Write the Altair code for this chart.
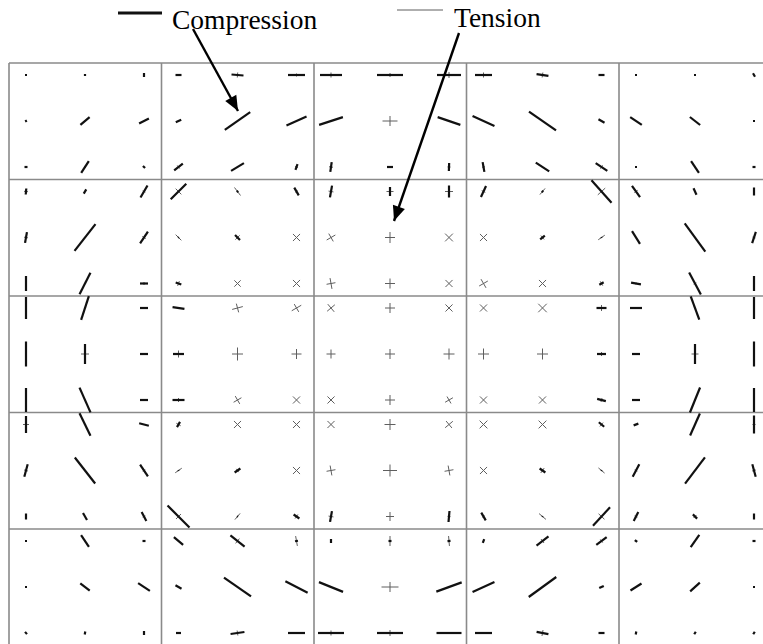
import math
import altair as alt
import pandas as pd

# Principal stress field on a 5 x 5 panel grid, 3 x 3 sample points per panel.
# ANGLE: direction of the first principal stress (deg, counter-clockwise from horizontal)
# S1: signed magnitude along ANGLE, S2: signed magnitude along ANGLE + 90
# negative = compression (thick), positive = tension (thin)
ANGLE = [
    [0, 90, 90, 0, -5, 0, 0, 0, 0, 0, -8, 0, 0, 0, -60],
    [30, 40, 27, 25, 35, 24, 18, 0, -19, -24, -35, -30, -34, -38, 0],
    [0, 57, -45, 38, 31, 70, 82, 0, 88, 100, -33, -34, 0, -56, 0],
    [85, 60, 60, 45, -53, -60, 80, 90, 90, 65, 50, -48, -55, -65, 90],
    [80, 52, 56, -45, -45, 45, 30, 0, 45, 45, 40, 35, -58, -54, 72],
    [90, 63, 0, -20, 45, 45, 10, 0, 45, 30, 45, 30, -10, -62, 90],
    [90, 72, 0, -8, 15, 30, 40, 0, 45, 45, 45, 0, 0, -70, 90],
    [90, 90, 0, 0, 0, 0, 0, 0, 0, 0, 0, 0, 0, 90, 90],
    [90, -66, 0, 0, 30, 45, 45, 0, 30, 45, 45, -15, 0, 68, 90],
    [90, -64, -15, 60, 45, 45, 45, 0, 40, 45, 45, -40, 20, 66, 90],
    [75, -52, -56, 35, 35, 45, 10, 0, 10, 45, -35, -40, 62, 53, -75],
    [90, -60, -62, -45, 50, -35, 80, 0, 85, -60, -40, 47, 63, -45, 90],
    [0, -56, 0, -40, -38, 100, 90, 90, 95, 70, 37, 37, -40, 55, 0],
    [0, -38, -33, -30, -35, -27, -22, 0, 20, 24, 36, 25, 32, 42, 0],
    [-50, 80, 90, 0, 8, 0, 0, 0, 0, 0, -10, 0, 80, 60, 60],
]
S1 = [
    [-2, -2, -4, -6, -12, -17, -22, -26, -24, -17, -12, -6, -2, -2, -4],
    [-2, -12, -11, -6, -31, -22, -25, 15, -24, -24, -33, -7, -14, -13, -2],
    [-3, -14, -3, -11, -15, -6, -10, -6, -8, -10, -16, -14, -2, -14, -3],
    [-6, -5, -14, -22, 10, -9, -12, -9, -12, -12, 8, -30, -14, -7, -8],
    [-11, -34, -14, 8, -7, 10, 10, 10, 11, 10, -6, 8, -15, -35, -12],
    [-15, -24, -8, -6, 9, 10, 9, 10, 10, 10, 10, -5, -10, -25, -15],
    [-22, -25, -8, -12, 11, 11, 10, 10, 10, 10, 12, -10, -12, -25, -22],
    [-25, -20, -8, -11, 11, 10, 9, 10, 11, 11, 11, -9, -8, -20, -25],
    [-24, -27, -8, -12, 9, 10, 10, 10, 9, 10, 10, -9, -8, -27, -24],
    [-17, -25, -10, -6, 10, 10, 10, 11, 10, 11, 11, -7, -5, -24, -18],
    [-13, -33, -14, 8, -7, 10, 9, 14, 9, 10, -7, 8, -14, -33, -13],
    [-6, -8, -10, -31, 8, -7, -11, 8, -11, -9, 9, -25, -10, -6, -6],
    [-2, -14, -3, -12, -18, 10, -4, 10, 10, -4, -15, -13, -3, -15, -3],
    [-2, -12, -14, -7, -33, -25, -26, 17, -27, -24, -34, -5, -13, -13, -2],
    [-3, -3, -4, -5, -14, -17, -26, -26, -25, -17, -12, -6, -3, -3, -3],
]
S2 = [
    [0, 0, 0, 2, 5, 3, 5, 4, 6, 5, 5, 0, 0, 0, 0],
    [0, 0, 0, 0, 0, 0, 0, 10, 0, 0, 0, 0, 0, 0, 0],
    [0, 2, 0, 4, 0, 3, 4, 0, 3, 3, 0, 4, 0, 0, 0],
    [4, 0, 3, 8, -2, 3, 5, 7, 8, 4, -2, 10, 4, 0, 0],
    [4, 0, 4, -1, 6, 10, 9, 11, 11, 10, 5, -1, 0, 0, 3],
    [0, 0, 3, 5, 9, 10, 11, 10, 10, 10, 10, 5, 2, 3, 0],
    [0, 0, 2, 2, 9, 9, 10, 10, 10, 10, 12, 6, 0, 0, 0],
    [0, 8, 2, 7, 13, 10, 9, 10, 11, 11, 11, 4, 2, 7, 0],
    [2, 0, 0, 4, 9, 10, 10, 10, 8, 10, 10, 4, 2, 2, 0],
    [6, 0, 0, 5, 10, 10, 10, 11, 9, 11, 11, 5, 0, 0, 3],
    [4, 0, 3, -1, 4, 10, 10, 12, 10, 10, 6, -1, 3, 0, 4],
    [0, 0, 3, 7, -1, 5, 5, 9, 3, 3, -1, 8, 3, 4, 0],
    [0, 0, 0, 0, 6, -3, 0, -3, -3, 0, 5, 4, 0, 0, 0],
    [0, 0, 0, 0, 0, 0, 0, 10, 0, 0, 0, 0, 0, 0, 0],
    [0, 0, 0, 0, 5, 0, 5, 6, 0, 0, 6, 0, 0, 0, 0],
]

LEGEND = ["Compression", "Tension"]

# panel geometry (one data unit = one pixel)
CELL_W, CELL_H = 152.5, 116.5
SUB_X = [17, 76, 135]
SUB_Y = [12, 58, 104]
N_CELLS = 5
PLOT_W, PLOT_H = 754, 581

segments = []
for j in range(15):
    for i in range(15):
        cx = (i // 3) * CELL_W + SUB_X[i % 3]
        cy = (j // 3) * CELL_H + SUB_Y[j % 3]
        for ang, s in ((ANGLE[j][i], S1[j][i]), (ANGLE[j][i] + 90, S2[j][i])):
            if s == 0:
                continue
            half = abs(s) / 2
            dx = half * math.cos(math.radians(ang))
            dy = half * math.sin(math.radians(ang))
            segments.append(dict(x=cx - dx, x2=cx + dx, y=cy + dy, y2=cy - dy,
                                 kind=LEGEND[0] if s < 0 else LEGEND[1]))
seg = pd.DataFrame(segments)

grid_v = pd.DataFrame({"x": [k * CELL_W for k in range(N_CELLS)], "y": 0, "y2": PLOT_H})
grid_h = pd.DataFrame({"y": [k * CELL_H for k in range(N_CELLS)], "x": 0, "x2": PLOT_W})

xs = alt.Scale(domain=[-9, 754], nice=False, zero=False)
ys = alt.Scale(domain=[-63, 581], reverse=True, nice=False, zero=False)


def X(f):
    return alt.X(f, type="quantitative", scale=xs, axis=None)


def Y(f):
    return alt.Y(f, type="quantitative", scale=ys, axis=None)


GRID = "#8a8a8a"
COMP = "#111111"
TENS = "#5f5f5f"

vlines = alt.Chart(grid_v).mark_rule(color=GRID, strokeWidth=1.6).encode(
    x=X("x"), y=Y("y"), y2="y2")
hlines = alt.Chart(grid_h).mark_rule(color=GRID, strokeWidth=1.6).encode(
    y=Y("y"), x=X("x"), x2="x2")

tension = alt.Chart(seg).transform_filter(alt.datum.kind == LEGEND[1]).mark_rule(
    color=TENS, strokeWidth=1.0).encode(x=X("x"), x2="x2", y=Y("y"), y2="y2")
compression = alt.Chart(seg).transform_filter(alt.datum.kind == LEGEND[0]).mark_rule(
    color=COMP, strokeWidth=2.2).encode(x=X("x"), x2="x2", y=Y("y"), y2="y2")

# legend keys and labels above the panels
key = pd.DataFrame({"kind": LEGEND, "x": [109, 388], "x2": [153, 434], "y": [-50, -53],
                    "w": [3.0, 1.0], "c": [COMP, TENS],
                    "tx": [163, 445], "ty": [-34, -36]})
key_lines = alt.Chart(key).mark_rule().encode(
    x=X("x"), x2="x2", y=Y("y"),
    strokeWidth=alt.StrokeWidth("w:Q", scale=None),
    color=alt.Color("c:N", scale=None))
key_text = alt.Chart(key).mark_text(
    align="left", baseline="alphabetic", font="Liberation Serif", fontSize=27.5,
    color="black").encode(x=X("tx"), y=Y("ty"), text="kind:N")

# pointer arrows from the labels into the field
arrows = pd.DataFrame({"x": [184, 450], "y": [-34, -30], "x2": [229, 385], "y2": [48, 158]})
arrows["ang"] = [
    (math.degrees(math.atan2(-(r.y2 - r.y), r.x2 - r.x)) * -1 + 90) % 360
    for r in arrows.itertuples()
]
arrow_lines = alt.Chart(arrows).mark_rule(color="black", strokeWidth=2.4).encode(
    x=X("x"), x2="x2", y=Y("y"), y2="y2")
arrow_heads = alt.Chart(arrows).mark_point(
    shape="M0,0L-0.42,1L0.42,1Z", filled=True, size=900, color="black", opacity=1
).encode(x=X("x2"), y=Y("y2"), angle=alt.Angle("ang:Q", scale=None))

chart = alt.layer(
    vlines, hlines, tension, compression, key_lines, key_text, arrow_lines, arrow_heads
).properties(
    width=763, height=644, padding=0, autosize=alt.AutoSizeParams(type="none"),
    background="white",
).configure_view(stroke=None)

chart.save("out.html", embed_options={"renderer": "svg", "actions": False})
